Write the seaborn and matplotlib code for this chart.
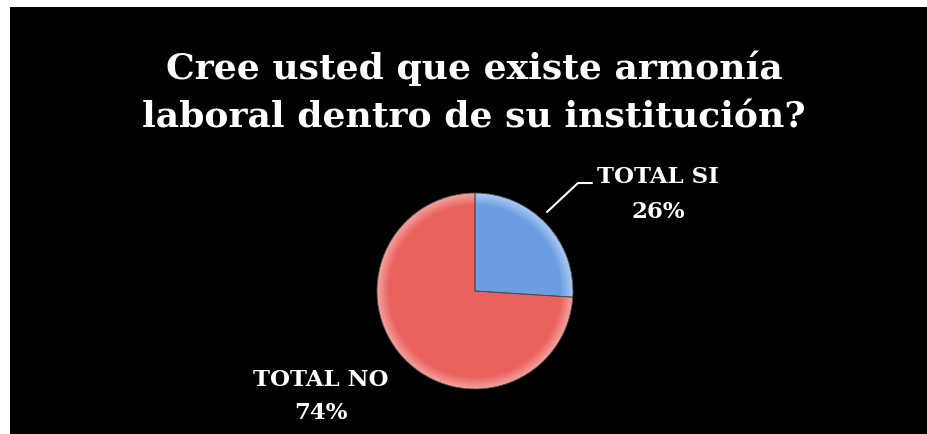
import matplotlib
matplotlib.use("Agg")
import matplotlib.pyplot as plt
import matplotlib.colors as mcolors
from matplotlib.patches import Rectangle
import seaborn as sns
import numpy as np

title_lines = ["Cree usted que existe armonía", "laboral dentro de su institución?"]
categories = ["TOTAL SI", "TOTAL NO"]
values = [26, 74]

sns.set_theme(style="white")
base_colors = ["#6C9DE3", "#E9605C"]
light_colors = ["#A9C8F2", "#F4A09C"]

W, H = 928, 434
fig = plt.figure(figsize=(W / 100, H / 100), dpi=100, facecolor="black")
# white margin at top and left of the black panel
fig.add_artist(Rectangle((0, 1 - 7 / H), 1, 7 / H + 0.01, transform=fig.transFigure,
                         facecolor="white", edgecolor="none", zorder=10))
fig.add_artist(Rectangle((0, 0), 10 / W, 1, transform=fig.transFigure,
                         facecolor="white", edgecolor="none", zorder=10))

ax = fig.add_axes([0, 0, 1, 1])
ax.set_facecolor("black")
ax.patch.set_alpha(0)

cx, cy, r = 475, H - 291, 98

# bevel-like shading: concentric pies from light rim to base colour
steps = 10
for i in range(steps + 1):
    t = i / steps
    rr = r * (1 - 0.12 * t)
    cols = [mcolors.to_hex((1 - t) * np.array(mcolors.to_rgb(l)) + t * np.array(mcolors.to_rgb(b)))
            for l, b in zip(light_colors, base_colors)]
    wedges, _ = ax.pie(values, colors=cols, startangle=90, counterclock=False,
                       center=(cx, cy), radius=rr,
                       wedgeprops=dict(edgecolor="none", linewidth=0))
    for w in wedges:
        w.set_zorder(2 + i * 0.01)

# slice outlines
wedges, _ = ax.pie(values, colors=["none", "none"], startangle=90, counterclock=False,
                   center=(cx, cy), radius=r,
                   wedgeprops=dict(edgecolor="#4a4a4a", linewidth=0.6, fill=False))
for w in wedges:
    w.set_zorder(3)

ax.set_xlim(0, W)
ax.set_ylim(0, H)
ax.set_aspect("equal")
ax.axis("off")

tfont = dict(family="DejaVu Serif", weight="bold", color="white")
ax.text(474, H - 68, title_lines[0], ha="center", va="center", fontsize=26, **tfont)
ax.text(474, H - 118, title_lines[1], ha="center", va="center", fontsize=26, **tfont)

lfont = dict(family="DejaVu Serif", weight="bold", color="white", fontsize=16.5)
ax.text(658, H - 177, categories[0], ha="center", va="center", **lfont)
ax.text(658, H - 212, f"{values[0]}%", ha="center", va="center", **lfont)
ax.text(321, H - 380, categories[1], ha="center", va="center", **lfont)
ax.text(321, H - 413, f"{values[1]}%", ha="center", va="center", **lfont)

ax.plot([547, 578, 592], [H - 212, H - 183, H - 183], color="white", lw=1.5, zorder=4)

fig.savefig("out.png", dpi=100, facecolor="black")
